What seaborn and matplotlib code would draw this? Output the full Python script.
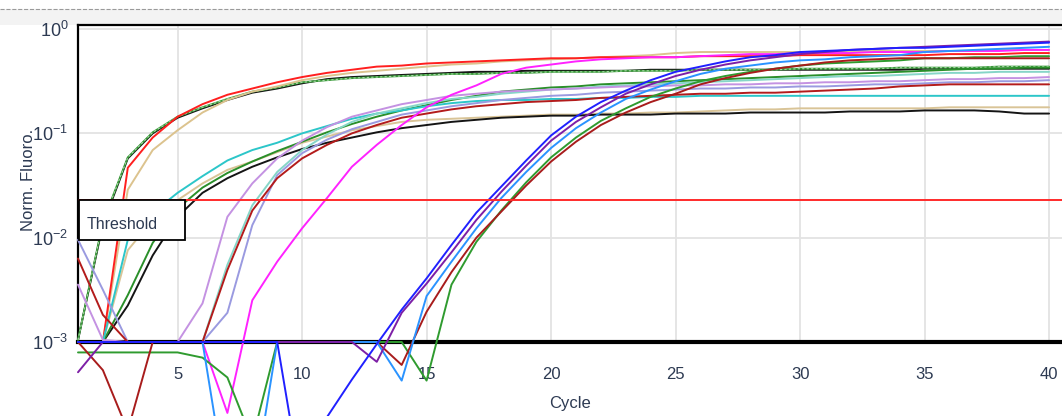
import numpy as np
import matplotlib
matplotlib.use("Agg")
import matplotlib.pyplot as plt
import seaborn as sns
from matplotlib.patches import Rectangle
from matplotlib.lines import Line2D
from matplotlib.ticker import FixedLocator, FuncFormatter, NullLocator

sns.set_style("white")
plt.rcParams['font.family'] = ['Liberation Sans', 'DejaVu Sans']

cycles = list(range(1, 41))
x_ticks = [5, 10, 15, 20, 25, 30, 35, 40]
y_ticks = [1e-3, 1e-2, 1e-1, 1e0]
threshold = 0.0229

# log10 of the normalised fluorescence, read per cycle off the picture
red_a = [-3.0, -3.0, -1.33, -1.04, -0.84, -0.72, -0.63, -0.57, -0.51, -0.46,
         -0.42, -0.39, -0.36, -0.35, -0.33, -0.32, -0.31, -0.30, -0.29, -0.28,
         -0.28, -0.27, -0.27, -0.27, -0.27, -0.26, -0.26, -0.26, -0.26, -0.25,
         -0.25, -0.25, -0.25, -0.25, -0.25, -0.24, -0.24, -0.24, -0.23, -0.23]
tan_a = [-3.0, -3.0, -1.54, -1.16, -0.97, -0.80, -0.68, -0.60, -0.55, -0.49,
         -0.45, -0.42, -0.40, -0.38, -0.36, -0.34, -0.33, -0.31, -0.30, -0.29,
         -0.28, -0.27, -0.26, -0.25, -0.23, -0.22, -0.22, -0.22, -0.22, -0.22,
         -0.22, -0.22, -0.21, -0.21, -0.21, -0.21, -0.21, -0.20, -0.20, -0.20]
green_a = [-2.98, -1.85, -1.23, -0.99, -0.84, -0.75, -0.67, -0.60, -0.56, -0.51,
           -0.49, -0.47, -0.46, -0.45, -0.44, -0.43, -0.43, -0.42, -0.42, -0.41,
           -0.41, -0.41, -0.40, -0.40, -0.40, -0.39, -0.39, -0.39, -0.39, -0.38,
           -0.38, -0.38, -0.38, -0.37, -0.37, -0.37, -0.37, -0.36, -0.36, -0.36]
black_a = [-2.98, -1.87, -1.24, -1.00, -0.85, -0.76, -0.68, -0.61, -0.57, -0.52,
           -0.48, -0.46, -0.45, -0.44, -0.43, -0.42, -0.41, -0.41, -0.40, -0.40,
           -0.40, -0.40, -0.40, -0.39, -0.39, -0.39, -0.39, -0.39, -0.39, -0.39,
           -0.39, -0.39, -0.39, -0.39, -0.38, -0.38, -0.38, -0.38, -0.38, -0.38]
cyan = [-3.0, -3.0, -2.02, -1.76, -1.57, -1.41, -1.26, -1.16, -1.09, -1.00,
        -0.93, -0.86, -0.81, -0.78, -0.74, -0.71, -0.69, -0.68, -0.68, -0.67,
        -0.67, -0.66, -0.66, -0.65, -0.65, -0.64, -0.64, -0.64, -0.64, -0.64,
        -0.64, -0.64, -0.64, -0.64, -0.64, -0.64, -0.64, -0.64, -0.64, -0.64]
tan_b = [-3.0, -3.0, -2.12, -1.83, -1.64, -1.48, -1.35, -1.27, -1.18, -1.09,
         -1.03, -0.97, -0.93, -0.89, -0.87, -0.86, -0.85, -0.84, -0.83, -0.82,
         -0.82, -0.81, -0.81, -0.80, -0.80, -0.79, -0.78, -0.77, -0.77, -0.76,
         -0.76, -0.76, -0.76, -0.76, -0.76, -0.75, -0.75, -0.75, -0.75, -0.75]
black_b = [-3.0, -3.0, -2.65, -2.17, -1.80, -1.57, -1.43, -1.32, -1.23, -1.15,
           -1.09, -1.04, -0.99, -0.95, -0.92, -0.89, -0.87, -0.85, -0.84, -0.83,
           -0.83, -0.82, -0.82, -0.82, -0.81, -0.81, -0.81, -0.80, -0.80, -0.80,
           -0.80, -0.79, -0.79, -0.79, -0.78, -0.78, -0.78, -0.79, -0.81, -0.81]
green_b = [-3.0, -3.0, -2.55, -2.05, -1.72, -1.52, -1.38, -1.27, -1.17, -1.08,
           -0.99, -0.91, -0.84, -0.78, -0.73, -0.68, -0.64, -0.60, -0.58, -0.56,
           -0.55, -0.53, -0.52, -0.51, -0.50, -0.49, -0.48, -0.47, -0.46, -0.45,
           -0.44, -0.43, -0.42, -0.41, -0.40, -0.39, -0.38, -0.38, -0.37, -0.37]
lilac = [-2.45, -2.98, -3.0, -3.0, -3.0, -2.63, -1.80, -1.48, -1.24, -1.07,
         -0.94, -0.84, -0.78, -0.72, -0.68, -0.64, -0.62, -0.60, -0.59, -0.58,
         -0.57, -0.56, -0.55, -0.55, -0.54, -0.54, -0.53, -0.53, -0.52, -0.52,
         -0.51, -0.51, -0.50, -0.50, -0.49, -0.48, -0.48, -0.47, -0.47, -0.46]
teal = [-3.0, -3.0, -3.0, -3.0, -3.0, -3.0, -2.26, -1.69, -1.37, -1.16,
        -1.01, -0.89, -0.81, -0.76, -0.71, -0.67, -0.65, -0.62, -0.60, -0.58,
        -0.57, -0.55, -0.54, -0.53, -0.52, -0.51, -0.50, -0.49, -0.48, -0.47,
        -0.46, -0.45, -0.45, -0.44, -0.43, -0.42, -0.42, -0.41, -0.41, -0.41]
brick = [-2.20, -2.74, -3.0, -3.0, -3.0, -3.0, -2.31, -1.74, -1.43, -1.24,
         -1.11, -1.00, -0.92, -0.85, -0.81, -0.77, -0.74, -0.72, -0.70, -0.69,
         -0.68, -0.66, -0.65, -0.64, -0.63, -0.62, -0.62, -0.61, -0.61, -0.60,
         -0.59, -0.58, -0.57, -0.55, -0.54, -0.53, -0.53, -0.53, -0.53, -0.53]
slate = [-2.02, -2.50, -3.0, -3.0, -3.0, -3.0, -2.72, -1.88, -1.40, -1.19,
         -1.06, -0.96, -0.89, -0.82, -0.78, -0.74, -0.71, -0.68, -0.66, -0.64,
         -0.63, -0.61, -0.60, -0.59, -0.58, -0.57, -0.57, -0.56, -0.56, -0.55,
         -0.55, -0.54, -0.53, -0.53, -0.52, -0.51, -0.51, -0.50, -0.50, -0.49]
magenta = [-3.0, -3.0, -3.0, -3.0, -3.0, -3.0, -3.68, -2.60, -2.23, -1.91,
           -1.62, -1.32, -1.11, -0.92, -0.75, -0.63, -0.54, -0.43, -0.37, -0.34,
           -0.31, -0.29, -0.28, -0.27, -0.27, -0.26, -0.25, -0.24, -0.24, -0.23,
           -0.23, -0.23, -0.22, -0.22, -0.22, -0.21, -0.21, -0.21, -0.20, -0.20]
green_c = [-3.1, -3.1, -3.1, -3.1, -3.1, -3.15, -3.34, -3.94, -3.0, -3.0,
           -3.0, -3.0, -3.0, -3.0, -3.37, -2.45, -2.04, -1.74, -1.47, -1.23,
           -1.04, -0.88, -0.76, -0.65, -0.57, -0.50, -0.45, -0.41, -0.38, -0.35,
           -0.33, -0.32, -0.31, -0.30, -0.28, -0.28, -0.27, -0.27, -0.26, -0.26]
darkred_c = [-3.0, -3.27, -3.85, -3.0, -3.0, -3.0, -3.0, -3.0, -3.0, -3.0,
             -3.0, -3.0, -3.0, -3.22, -2.71, -2.33, -2.00, -1.75, -1.50, -1.27,
             -1.08, -0.92, -0.80, -0.70, -0.62, -0.53, -0.47, -0.42, -0.38, -0.35,
             -0.32, -0.30, -0.29, -0.28, -0.28, -0.28, -0.28, -0.28, -0.28, -0.28]
skyblue = [-3.0, -3.0, -3.0, -3.0, -3.0, -3.0, -4.47, -4.47, -3.0, -3.0,
           -3.0, -3.0, -3.0, -3.37, -2.56, -2.23, -1.91, -1.62, -1.37, -1.14,
           -0.95, -0.80, -0.67, -0.58, -0.50, -0.43, -0.38, -0.35, -0.32, -0.30,
           -0.29, -0.27, -0.26, -0.25, -0.22, -0.21, -0.20, -0.19, -0.18, -0.17]
purple = [-3.29, -3.0, -3.0, -3.0, -3.0, -3.0, -3.0, -3.0, -3.0, -3.0,
          -3.0, -3.0, -3.19, -2.72, -2.44, -2.14, -1.83, -1.56, -1.31, -1.07,
          -0.89, -0.75, -0.62, -0.53, -0.45, -0.39, -0.34, -0.30, -0.27, -0.24,
          -0.22, -0.20, -0.19, -0.18, -0.17, -0.16, -0.15, -0.14, -0.13, -0.12]
blue = [-3.0, -3.0, -3.0, -3.0, -3.0, -3.0, -3.0, -3.0, -3.0, -4.42,
        -3.72, -3.36, -3.02, -2.69, -2.39, -2.07, -1.76, -1.51, -1.26, -1.02,
        -0.84, -0.70, -0.59, -0.49, -0.41, -0.36, -0.31, -0.27, -0.25, -0.22,
        -0.21, -0.20, -0.19, -0.18, -0.18, -0.17, -0.16, -0.15, -0.14, -0.13]

curves = [
    (black_a, "#141414"), (green_a, "#3a993a"), (tan_a, "#dcc38e"), (red_a, "#ff1f1f"),
    (tan_b, "#d9c497"), (black_b, "#141414"), (green_b, "#2a8f2a"), (cyan, "#2cc6c9"),
    (slate, "#9a9ae0"), (teal, "#86d6c8"), (lilac, "#c492e2"), (brick, "#b31b1b"),
    (magenta, "#ff22ff"), (green_c, "#2f9b2f"), (darkred_c, "#a81c1c"),
    (skyblue, "#2a93ff"), (purple, "#7d1fa6"), (blue, "#2020ff"),
]

fig = plt.figure(figsize=(10.62, 4.16), dpi=100)
fig.add_artist(Rectangle((0, 391 / 416), 1, 16 / 416, transform=fig.transFigure,
                         fc="#f3f3f3", ec="none", zorder=0))
fig.add_artist(Line2D([0, 1], [407 / 416] * 2, transform=fig.transFigure,
                      ls="--", color="#9a9a9a", lw=0.8))
ax = fig.add_axes([78 / 1062, 74 / 416, 984 / 1062, 317 / 416])
ax.set_yscale("log")

for vals, col in curves:
    sns.lineplot(x=cycles, y=10 ** np.array(vals), color=col, lw=1.4, ax=ax,
                 clip_on=False, zorder=3)
    if vals is green_a:
        sns.lineplot(x=cycles, y=10 ** np.array(vals), color="#a5d9a5", lw=0.8,
                     ls=(0, (2, 2)), ax=ax, clip_on=False, zorder=3)

ax.axhline(threshold, color="#ff2a2a", lw=1.4, zorder=4)

ax.set_xlim(1, 40.52)
ax.set_ylim(1e-3, 10 ** 0.039)
ax.xaxis.set_major_locator(FixedLocator(x_ticks))
ax.yaxis.set_major_locator(FixedLocator(y_ticks))
ax.yaxis.set_minor_locator(NullLocator())
ax.yaxis.set_major_formatter(FuncFormatter(
    lambda v, p: r"$\mathregular{10^{%d}}$" % round(np.log10(v))))
ax.grid(True, color="#e3e3e3", lw=1.3)
ax.set_axisbelow(True)

ax.spines["right"].set_visible(False)
ax.spines["top"].set_linewidth(1.6)
ax.spines["left"].set_linewidth(1.6)
ax.spines["bottom"].set_linewidth(3)
for s in ax.spines.values():
    s.set_color("black")
ax.spines["bottom"].set_zorder(2.6)

ax.tick_params(axis="both", length=6, width=1.5, color="#9a9a9a", labelsize=12,
               labelcolor="#2d3a52", direction="out")
ax.tick_params(axis="x", pad=12)
ax.tick_params(axis="y", pad=1, labelsize=13)

ax.set_xlabel("Cycle", fontsize=12, color="#2d3a52")
ax.set_ylabel("Norm. Fluoro.", fontsize=12, color="#2d3a52")
ax.xaxis.set_label_coords(0.5, -0.17)
ax.yaxis.set_label_coords(-0.043, 0.51)

ax.add_patch(Rectangle((0.001, 0.322), 0.108, 0.126, transform=ax.transAxes,
                       fc="white", ec="black", lw=1.3, zorder=6, clip_on=False))
ax.text(0.009, 0.372, "Threshold", transform=ax.transAxes, fontsize=11.5,
        color="#2d3a52", va="center", ha="left", zorder=7)

fig.savefig("out.png", dpi=100)
